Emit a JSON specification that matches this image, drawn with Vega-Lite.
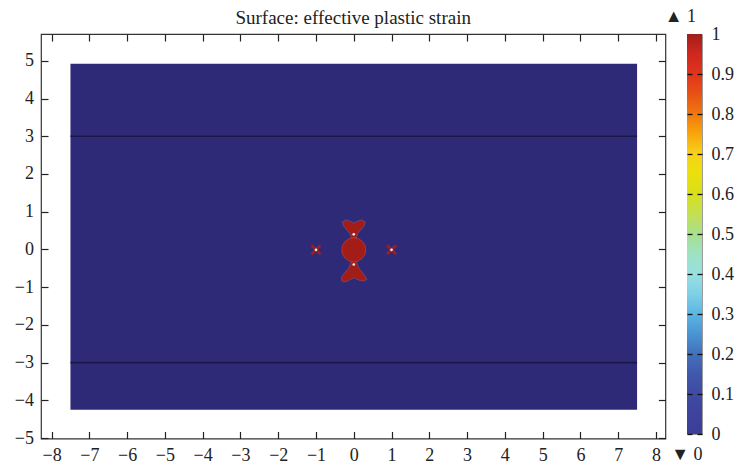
{
  "$schema": "https://vega.github.io/schema/vega-lite/v6.json",
  "padding": {"left": 13, "top": 7, "right": 5, "bottom": 5},
  "autosize": "pad",
  "background": "white",
  "bounds": "flush",
  "spacing": 21,
  "config": {
    "font": "Liberation Serif",
    "axis": {"grid": false}
  },
  "hconcat": [
    {
      "width": 624.4,
      "height": 404.5,
      "view": {"stroke": "#333333", "strokeWidth": 1.2},
      "title": {
        "text": "Surface: effective plastic strain",
        "font": "Liberation Serif",
        "fontSize": 19,
        "fontWeight": "normal",
        "color": "#222222",
        "anchor": "middle",
        "frame": "group",
        "offset": 5
      },
      "resolve": {"axis": {"x": "independent", "y": "independent"}},
      "layer": [
        {
          "data": {"values": [{"x0": -7.5, "x1": 7.5, "y0": -4.25, "y1": 4.92}]},
          "mark": {"type": "rect", "fill": "#2e2a77"},
          "encoding": {
            "x": {
              "field": "x0", "type": "quantitative",
              "scale": {"domain": [-8.28, 8.25], "nice": false, "zero": false},
              "axis": {
                "orient": "bottom", "values": [-8, -7, -6, -5, -4, -3, -2, -1, 0, 1, 2, 3, 4, 5, 6, 7, 8],
                "format": "~g", "tickSize": -7, "tickColor": "#222222", "tickWidth": 1.2,
                "domain": false, "grid": false, "labelFont": "Liberation Serif", "labelFontSize": 18,
                "labelColor": "#222222", "labelPadding": 15, "labelFlush": false, "labelOverlap": false,
                "title": null
              }
            },
            "x2": {"field": "x1"},
            "y": {
              "field": "y0", "type": "quantitative",
              "scale": {"domain": [-5.01, 5.71], "nice": false, "zero": false},
              "axis": {
                "orient": "left", "values": [-5, -4, -3, -2, -1, 0, 1, 2, 3, 4, 5],
                "format": "~g", "tickSize": -7, "tickColor": "#222222", "tickWidth": 1.2,
                "domain": false, "grid": false, "labelFont": "Liberation Serif", "labelFontSize": 18,
                "labelColor": "#222222", "labelPadding": 14.5, "labelFlush": false, "labelOverlap": false,
                "title": null
              }
            },
            "y2": {"field": "y1"}
          }
        },
        {
          "data": {"values": [{"y": 3, "xa": -7.5, "xb": 7.5}, {"y": -3, "xa": -7.5, "xb": 7.5}]},
          "mark": {"type": "rule", "color": "#1a1846", "strokeWidth": 1.6},
          "encoding": {
            "x": {
              "field": "xa", "type": "quantitative",
              "scale": {"domain": [-8.28, 8.25], "nice": false, "zero": false},
              "axis": {
                "orient": "top", "values": [-8, -7, -6, -5, -4, -3, -2, -1, 0, 1, 2, 3, 4, 5, 6, 7, 8],
                "tickSize": -7, "tickColor": "#222222", "tickWidth": 1.2, "labels": false,
                "domain": false, "grid": false, "title": null
              }
            },
            "x2": {"field": "xb"},
            "y": {
              "field": "y", "type": "quantitative",
              "scale": {"domain": [-5.01, 5.71], "nice": false, "zero": false},
              "axis": {
                "orient": "right", "values": [-5, -4, -3, -2, -1, 0, 1, 2, 3, 4, 5],
                "tickSize": -7, "tickColor": "#222222", "tickWidth": 1.2, "labels": false,
                "domain": false, "grid": false, "title": null
              }
            }
          }
        },
        {
          "data": {"values": [{"x": 0, "y": 0.583}]},
          "mark": {"type": "point", "filled": true, "size": 4, "opacity": 1, "color": "#a21d17",
                   "stroke": "#7d8fd0", "strokeWidth": 0.6, "strokeOpacity": 0.5,
                   "shape": "M-2.5,10.5 L-4,6 L-7.5,2 L-10.5,-2 L-11.5,-5.5 L-8,-7.5 L-4,-6.5 L0,-4.5 L4,-6.5 L8,-7.5 L11.5,-5.5 L10.5,-2 L7.5,2 L4,6 L2.5,10.5 Z"},
          "encoding": {
            "x": {"field": "x", "type": "quantitative", "scale": {"domain": [-8.28, 8.25], "nice": false, "zero": false}, "axis": null},
            "y": {"field": "y", "type": "quantitative", "scale": {"domain": [-5.01, 5.71], "nice": false, "zero": false}, "axis": null}
          }
        },
        {
          "data": {"values": [{"x": 0, "y": -0.61}]},
          "mark": {"type": "point", "filled": true, "size": 4, "opacity": 1, "color": "#a21d17",
                   "stroke": "#7d8fd0", "strokeWidth": 0.6, "strokeOpacity": 0.5,
                   "shape": "M-2.5,-12 L2.5,-12 L3.5,-8 L5.5,-4 L8.5,0 L11.5,3.5 L13,7 L10.5,8.5 L6,8 L1,5.8 L-1,5.8 L-6,8.5 L-10,9.5 L-12.5,8 L-12,4 L-9,0 L-5.5,-4 L-3.5,-8 Z"},
          "encoding": {
            "x": {"field": "x", "type": "quantitative", "scale": {"domain": [-8.28, 8.25], "nice": false, "zero": false}, "axis": null},
            "y": {"field": "y", "type": "quantitative", "scale": {"domain": [-5.01, 5.71], "nice": false, "zero": false}, "axis": null}
          }
        },
        {
          "data": {"values": [{"x": 0, "y": -0.01}]},
          "mark": {"type": "point", "filled": true, "size": 580, "opacity": 1, "color": "#a21d17",
                   "stroke": "#c0392b", "strokeWidth": 0.8, "shape": "circle"},
          "encoding": {
            "x": {"field": "x", "type": "quantitative", "scale": {"domain": [-8.28, 8.25], "nice": false, "zero": false}, "axis": null},
            "y": {"field": "y", "type": "quantitative", "scale": {"domain": [-5.01, 5.71], "nice": false, "zero": false}, "axis": null}
          }
        },
        {
          "data": {"values": [{"x": -1, "y": -0.01}, {"x": 1, "y": -0.01}]},
          "mark": {"type": "point", "filled": true, "size": 4, "opacity": 1, "color": "#96202a",
                   "shape": "M0,-2 L3.5,-5.5 L5.5,-3.5 L2,0 L5.5,3.5 L3.5,5.5 L0,2 L-3.5,5.5 L-5.5,3.5 L-2,0 L-5.5,-3.5 L-3.5,-5.5 Z"},
          "encoding": {
            "x": {"field": "x", "type": "quantitative", "scale": {"domain": [-8.28, 8.25], "nice": false, "zero": false}, "axis": null},
            "y": {"field": "y", "type": "quantitative", "scale": {"domain": [-5.01, 5.71], "nice": false, "zero": false}, "axis": null}
          }
        },
        {
          "data": {"values": [{"x": 0, "y": 0.4}, {"x": 0, "y": -0.4}, {"x": -1, "y": -0.01}, {"x": 1, "y": -0.01}]},
          "mark": {"type": "point", "filled": true, "size": 7, "opacity": 1, "color": "#f4f0ea", "shape": "circle"},
          "encoding": {
            "x": {"field": "x", "type": "quantitative", "scale": {"domain": [-8.28, 8.25], "nice": false, "zero": false}, "axis": null},
            "y": {"field": "y", "type": "quantitative", "scale": {"domain": [-5.01, 5.71], "nice": false, "zero": false}, "axis": null}
          }
        }
      ]
    },
    {
      "width": 15,
      "height": 400,
      "view": {"stroke": "#9a9a9a", "strokeWidth": 1},
      "title": {
        "text": "▲ 1",
        "font": "Liberation Serif",
        "fontSize": 18,
        "fontWeight": "normal",
        "color": "#222222",
        "anchor": "end",
        "frame": "group",
        "offset": -1,
        "dx": -6
      },
      "resolve": {"axis": {"x": "independent", "y": "independent"}},
      "layer": [
        {
          "data": {"values": [{"x0": 0, "x1": 1, "v0": 0, "v1": 1}]},
          "mark": {
            "type": "rect",
            "fill": {
              "gradient": "linear", "x1": 0, "y1": 1, "x2": 0, "y2": 0,
              "stops": [
                {"offset": 0, "color": "#3c3d97"},
                {"offset": 0.05, "color": "#3e439d"},
                {"offset": 0.1, "color": "#3f4aa3"},
                {"offset": 0.15, "color": "#4058ad"},
                {"offset": 0.2, "color": "#4370bb"},
                {"offset": 0.25, "color": "#4a94d3"},
                {"offset": 0.3, "color": "#5bb6e2"},
                {"offset": 0.35, "color": "#7fd0e6"},
                {"offset": 0.4, "color": "#98e0e0"},
                {"offset": 0.45, "color": "#9ee2c4"},
                {"offset": 0.5, "color": "#a8df8e"},
                {"offset": 0.55, "color": "#c5df52"},
                {"offset": 0.6, "color": "#d8df1c"},
                {"offset": 0.65, "color": "#eae10a"},
                {"offset": 0.7, "color": "#f6d21a"},
                {"offset": 0.75, "color": "#f8a60c"},
                {"offset": 0.8, "color": "#f07810"},
                {"offset": 0.85, "color": "#e85214"},
                {"offset": 0.9, "color": "#e0341c"},
                {"offset": 0.95, "color": "#d0281e"},
                {"offset": 1, "color": "#a01e1a"}
              ]
            }
          },
          "encoding": {
            "x": {
              "field": "x0", "type": "quantitative",
              "scale": {"domain": [0, 1], "nice": false, "zero": false},
              "axis": {
                "orient": "bottom", "values": [0.5], "domain": true, "domainColor": "transparent",
                "ticks": true, "tickColor": "transparent", "tickSize": 0,
                "labels": false, "grid": false,
                "title": "▼ 0", "titleFont": "Liberation Serif", "titleFontSize": 18, "titleFontWeight": "normal",
                "titleColor": "#222222", "titleAnchor": "end", "titleAlign": "right", "titlePadding": 11
              }
            },
            "x2": {"field": "x1"},
            "y": {
              "field": "v0", "type": "quantitative",
              "scale": {"domain": [0, 1], "nice": false, "zero": false},
              "axis": {
                "orient": "right", "values": [0, 0.1, 0.2, 0.3, 0.4, 0.5, 0.6, 0.7, 0.8, 0.9, 1],
                "format": "~g", "tickSize": -5, "tickWidth": 1.3,
                "tickColor": {"condition": {"test": "datum.value >= 1", "value": "transparent"}, "value": "#111111"},
                "domain": false, "grid": false, "labelFont": "Liberation Serif", "labelFontSize": 18,
                "labelColor": "#222222", "labelPadding": 14, "labelFlush": false, "labelOverlap": false,
                "title": null, "zindex": 1
              }
            },
            "y2": {"field": "v1"}
          }
        },
        {
          "data": {"values": [{"x0": 0, "x1": 1, "v0": 0, "v1": 1}]},
          "mark": {"type": "rect", "opacity": 0},
          "encoding": {
            "x": {"field": "x0", "type": "quantitative", "scale": {"domain": [0, 1], "nice": false, "zero": false}, "axis": null},
            "x2": {"field": "x1"},
            "y": {
              "field": "v0", "type": "quantitative",
              "scale": {"domain": [0, 1], "nice": false, "zero": false},
              "axis": {
                "orient": "left", "values": [0, 0.1, 0.2, 0.3, 0.4, 0.5, 0.6, 0.7, 0.8, 0.9, 1],
                "tickSize": -5, "tickWidth": 1.3,
                "tickColor": {"condition": {"test": "datum.value >= 1", "value": "transparent"}, "value": "#111111"},
                "labels": false, "domain": false, "grid": false, "title": null, "zindex": 1
              }
            },
            "y2": {"field": "v1"}
          }
        }
      ]
    }
  ]
}
